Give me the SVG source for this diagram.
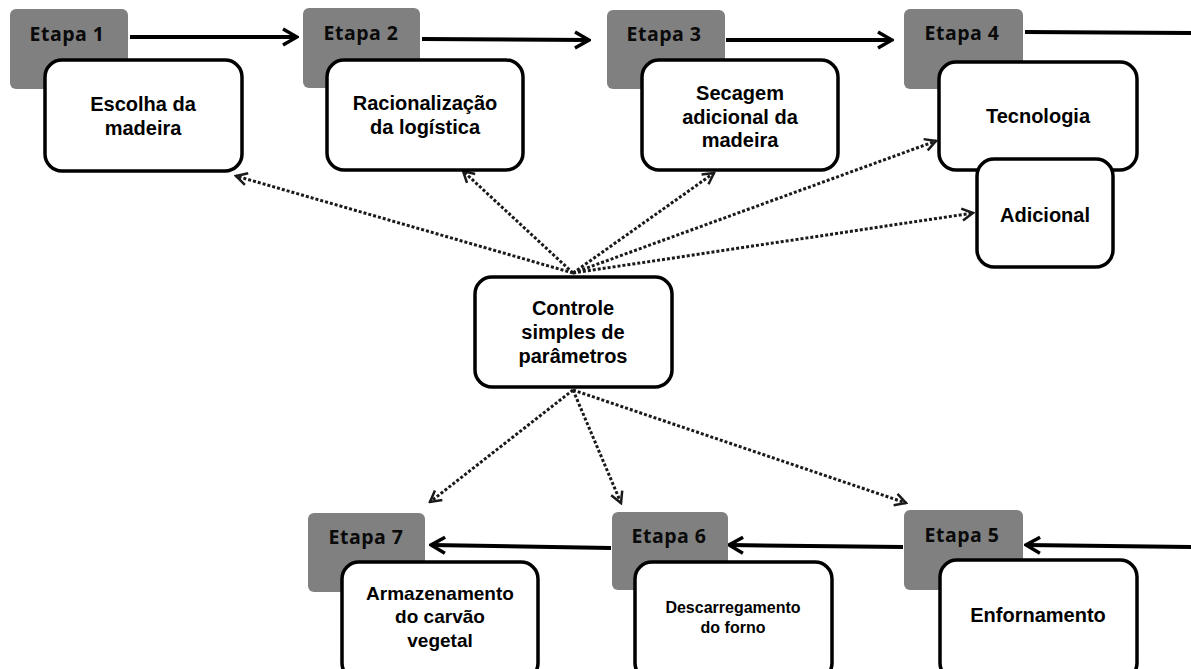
<svg xmlns="http://www.w3.org/2000/svg" width="1191" height="669" viewBox="0 0 1191 669">
  <defs>
    <style>
      .stage { fill: #808080; }
      .stage-label { font-family: "Open Sans", "Liberation Sans", sans-serif; font-weight: 700; font-size: 19.5px; letter-spacing: 0.5px; fill: #0a0a0a; text-anchor: middle; }
      .box { fill: #ffffff; stroke: #000; stroke-width: 3.5; }
      .label { font-family: "Liberation Sans", Arial, sans-serif; font-weight: 700; font-size: 20px; fill: #000; text-anchor: middle; }
      .flow { fill: none; stroke: #000; stroke-width: 4; }
      .ctrl { fill: none; stroke: #1a1a1a; stroke-width: 3; stroke-dasharray: 3 2; }
    </style>
    <marker id="head" viewBox="-16 -10 18 20" refX="0" refY="0" markerWidth="18" markerHeight="20" markerUnits="userSpaceOnUse" orient="auto">
      <path d="M-14,-8 L0,0 L-14,8" fill="none" stroke="#000" stroke-width="3.5" stroke-linejoin="miter"/>
    </marker>
    <marker id="dothead" viewBox="-14 -9 16 18" refX="0" refY="0" markerWidth="16" markerHeight="18" markerUnits="userSpaceOnUse" orient="auto">
      <path d="M-11,-6 L0,0 L-11,6" fill="none" stroke="#1a1a1a" stroke-width="2.5"/>
    </marker>
  </defs>

  <rect width="1191" height="669" fill="#ffffff"/>

  <!-- process flow and control links -->
  <g id="connectors">
    <line class="flow" x1="130" y1="37" x2="297" y2="37" marker-end="url(#head)"/>
    <line class="flow" x1="422" y1="39" x2="589" y2="40" marker-end="url(#head)"/>
    <line class="flow" x1="726" y1="40" x2="892" y2="40" marker-end="url(#head)"/>
    <line class="flow" x1="1025" y1="32" x2="1195" y2="33"/>
    <line class="flow" x1="1195" y1="547" x2="1026" y2="545" marker-end="url(#head)"/>
    <line class="flow" x1="903" y1="547" x2="729" y2="545" marker-end="url(#head)"/>
    <line class="flow" x1="611" y1="548" x2="431" y2="545" marker-end="url(#head)"/>

    <line class="ctrl" x1="573" y1="273" x2="236" y2="176" marker-end="url(#dothead)"/>
    <line class="ctrl" x1="573" y1="273" x2="463" y2="171" marker-end="url(#dothead)"/>
    <line class="ctrl" x1="573" y1="273" x2="714" y2="173" marker-end="url(#dothead)"/>
    <line class="ctrl" x1="573" y1="273" x2="936" y2="141" marker-end="url(#dothead)"/>
    <line class="ctrl" x1="573" y1="273" x2="973" y2="213" marker-end="url(#dothead)"/>
    <line class="ctrl" x1="573" y1="390" x2="430" y2="502" marker-end="url(#dothead)"/>
    <line class="ctrl" x1="573" y1="390" x2="621" y2="503" marker-end="url(#dothead)"/>
    <line class="ctrl" x1="573" y1="390" x2="906" y2="503" marker-end="url(#dothead)"/>
  </g>

  <g id="etapa1">
    <rect class="stage" x="10" y="9" width="118" height="80" rx="6"/>
    <text class="stage-label" x="67" y="41">Etapa 1</text>
    <rect class="box" x="45" y="60" width="197" height="111" rx="17"/>
    <text class="label" x="143" y="111">Escolha da</text>
    <text class="label" x="143" y="135">madeira</text>
  </g>

  <g id="etapa2">
    <rect class="stage" x="303" y="8" width="117" height="80" rx="6"/>
    <text class="stage-label" x="361" y="40">Etapa 2</text>
    <rect class="box" x="327" y="60" width="196" height="110" rx="17"/>
    <text class="label" x="425" y="110">Racionalização</text>
    <text class="label" x="425" y="134">da logística</text>
  </g>

  <g id="etapa3">
    <rect class="stage" x="607" y="10" width="118" height="79" rx="6"/>
    <text class="stage-label" x="664" y="41">Etapa 3</text>
    <rect class="box" x="642" y="60" width="196" height="110" rx="17"/>
    <text class="label" x="740" y="100">Secagem</text>
    <text class="label" x="740" y="124">adicional da</text>
    <text class="label" x="740" y="147">madeira</text>
  </g>

  <g id="etapa4">
    <rect class="stage" x="904" y="9" width="119" height="80" rx="6"/>
    <text class="stage-label" x="962" y="40">Etapa 4</text>
    <rect class="box" x="939" y="62" width="198" height="108" rx="17"/>
    <text class="label" x="1038" y="123">Tecnologia</text>
  </g>

  <g id="adicional">
    <rect class="box" x="977" y="159" width="136" height="108" rx="17"/>
    <text class="label" x="1045" y="222">Adicional</text>
  </g>

  <g id="controle">
    <rect class="box" x="475" y="277" width="197" height="110" rx="17"/>
    <text class="label" x="573" y="315">Controle</text>
    <text class="label" x="573" y="339">simples de</text>
    <text class="label" x="573" y="363">parâmetros</text>
  </g>

  <g id="etapa5">
    <rect class="stage" x="904" y="510" width="119" height="80" rx="6"/>
    <text class="stage-label" x="962" y="542">Etapa 5</text>
    <rect class="box" x="940" y="560" width="197" height="120" rx="17"/>
    <text class="label" x="1038" y="622">Enfornamento</text>
  </g>

  <g id="etapa6">
    <rect class="stage" x="612" y="512" width="116" height="78" rx="6"/>
    <text class="stage-label" x="669" y="543">Etapa 6</text>
    <rect class="box" x="635" y="562" width="197" height="118" rx="17"/>
    <text class="label" x="733" y="613" style="font-size:16px">Descarregamento</text>
    <text class="label" x="733" y="633" style="font-size:16px">do forno</text>
  </g>

  <g id="etapa7">
    <rect class="stage" x="308" y="513" width="117" height="79" rx="6"/>
    <text class="stage-label" x="366" y="544">Etapa 7</text>
    <rect class="box" x="342" y="562" width="196" height="118" rx="17"/>
    <text class="label" x="440" y="600" style="font-size:19px">Armazenamento</text>
    <text class="label" x="440" y="623" style="font-size:19px">do carvão</text>
    <text class="label" x="440" y="647" style="font-size:19px">vegetal</text>
  </g>
</svg>
